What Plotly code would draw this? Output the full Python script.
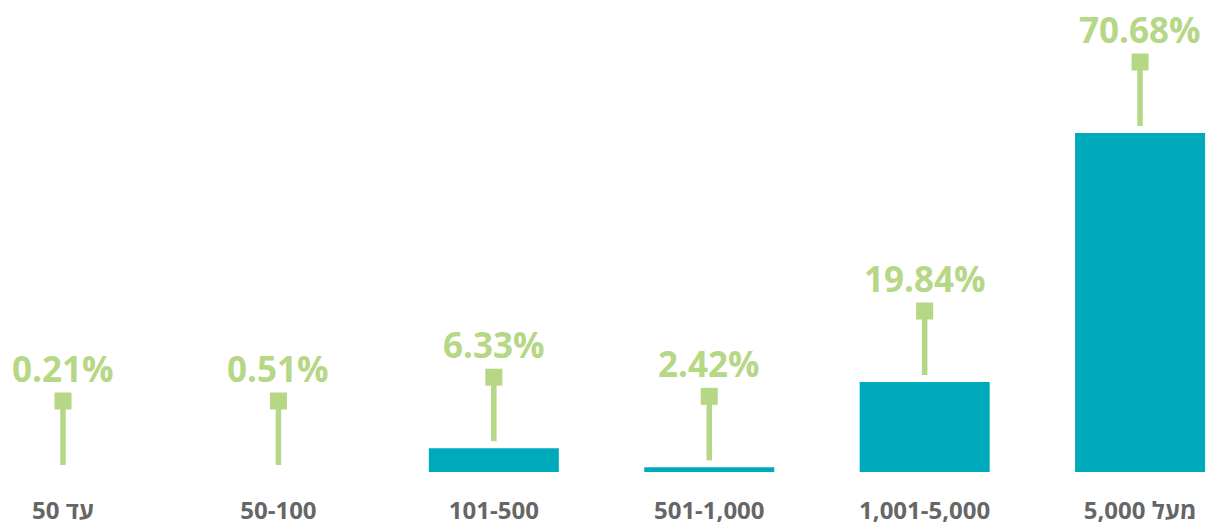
import plotly.graph_objects as go

categories = ["50 עד", "50-100", "101-500", "501-1,000", "1,001-5,000", "5,000 מעל"]
values = [0.21, 0.51, 6.33, 2.42, 19.84, 70.68]
value_labels = ["0.21%", "0.51%", "6.33%", "2.42%", "19.84%", "70.68%"]

BAR = "#00AABD"
GREEN = "#B5D786"
GRAY = "#666666"
FONT = "Open Sans"

W, H = 1206, 526
mt, mb = 0, 54
plot_h = H - mt - mb
ymin = 1.47
ppu = 4.898  # pixels per unit
ymax = ymin + plot_h / ppu

x = list(range(len(categories)))

fig = go.Figure()
fig.add_trace(go.Bar(x=x, y=values, width=0.6035, marker=dict(color=BAR, line=dict(width=0)),
                     hoverinfo="skip"))

gap, line_len, text_off = 7, 64, 33
lx, ly, mx, my = [], [], [], []
for i, v in enumerate(values):
    anchor = max(v, ymin)
    bottom = anchor + gap / ppu
    top = bottom + line_len / ppu
    lx += [i, i, None]
    ly += [bottom, top, None]
    mx.append(i)
    my.append(top)
    fig.add_annotation(x=i, y=top + text_off / ppu, text="<b>%s</b>" % value_labels[i],
                       showarrow=False, xanchor="center", yanchor="middle",
                       font=dict(family=FONT, size=35, color=GREEN))

fig.add_trace(go.Scatter(x=lx, y=ly, mode="lines", line=dict(color=GREEN, width=5.5),
                         hoverinfo="skip", cliponaxis=False))
fig.add_trace(go.Scatter(x=mx, y=my, mode="markers",
                         marker=dict(symbol="square", size=17, color=GREEN, line=dict(width=0)),
                         hoverinfo="skip", cliponaxis=False))

fig.update_layout(
    width=W, height=H,
    margin=dict(l=0, r=0, t=mt, b=mb),
    paper_bgcolor="white", plot_bgcolor="white",
    showlegend=False,
    hovermode=False,
    xaxis=dict(range=[-0.2925, 5.306], tickvals=x, ticktext=["<b>%s</b>" % c for c in categories],
               showgrid=False, zeroline=False, showline=False, ticks="",
               tickfont=dict(family=FONT, size=24, color=GRAY), ticklabelstandoff=22),
    yaxis=dict(range=[ymin, ymax], visible=False, showgrid=False, zeroline=False),
)

fig.write_html("out.html", config={"displayModeBar": False},
               post_script="document.body.style.margin='0';document.body.style.overflow='hidden';")
